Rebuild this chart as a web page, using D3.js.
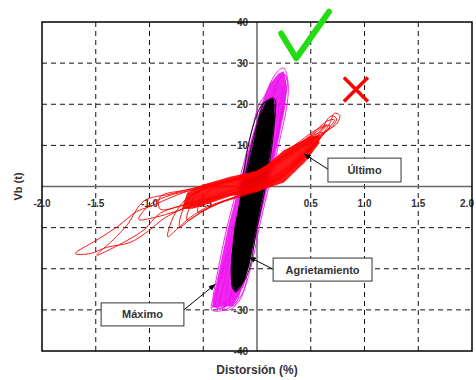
<!DOCTYPE html>
<html>
<head>
<meta charset="utf-8">
<script src="https://cdn.jsdelivr.net/npm/d3@7"></script>
<style>
  body { margin: 0; background: #fff; }
  svg { display: block; font-family: "Liberation Sans", Arial, sans-serif; }
</style>
</head>
<body>
<svg id="chart" width="476" height="380"></svg>
<script>
// ticks
const xTicks = [-2.0, -1.5, -1.0, -0.5, 0.5, 1.0, 1.5, 2.0];
const yTicks = [40, 30, 20, 10, 0, -10, -20, -30, -40];
const xGrid = [-1.5, -1.0, -0.5, 0.5, 1.0, 1.5];
const yGrid = [30, 20, 10, -10, -20, -30];

// Máximo (magenta) loops, [distorsión %, Vb t]
const maxCore = [[-0.42,-29.5],[-0.22,-29],[-0.12,-24],[-0.05,-17],[0.02,-9],[0.10,0],[0.19,10],[0.26,19],[0.28,24],[0.25,28],[0.20,27.5],[0.12,25],[0.04,20],[-0.07,10],[-0.17,0],[-0.27,-10],[-0.35,-20],[-0.40,-26]];
const maxLoops = [
  [[-0.42,-30],[-0.30,-30],[-0.16,-27],[-0.06,-20],[0.02,-10],[0.11,0],[0.20,10],[0.28,20],[0.29,25],[0.26,28.5],[0.24,28.8],[0.20,28.2],[0.14,26],[0.07,22],[0.02,20],[-0.08,10],[-0.18,0],[-0.28,-10],[-0.36,-20],[-0.41,-27]],
  [[-0.38,-29.5],[-0.22,-28],[-0.10,-20],[0.00,-10],[0.08,0],[0.17,10],[0.25,20],[0.28,26],[0.25,27.2],[0.18,25],[0.10,20],[0.00,12],[-0.10,2],[-0.20,-8],[-0.30,-18],[-0.37,-26]],
  [[-0.34,-28.5],[-0.20,-26],[-0.08,-18],[0.02,-6],[0.12,5],[0.20,15],[0.24,22],[0.22,24.5],[0.15,22],[0.06,15],[-0.05,5],[-0.15,-5],[-0.25,-16],[-0.32,-25]],
  [[-0.40,-28.5],[-0.33,-29.8],[-0.26,-27],[-0.16,-19],[-0.05,-8],[0.06,3],[0.16,14],[0.22,21],[0.27,27],[0.22,26.5],[0.12,19],[0.01,9],[-0.12,-3],[-0.24,-14],[-0.34,-23]],
  [[-0.30,-30],[-0.22,-29.5],[-0.14,-24],[-0.04,-13],[0.06,-2],[0.15,8],[0.23,18],[0.26,23],[0.20,22],[0.10,14],[-0.02,3],[-0.14,-8],[-0.24,-19],[-0.29,-27]],
  [[-0.36,-29.8],[-0.27,-28.5],[-0.20,-22],[-0.12,-14],[-0.22,-16],[-0.31,-24]],
  [[-0.25,-29.2],[-0.17,-28],[-0.10,-22],[-0.16,-20],[-0.23,-25]]
];

// Agrietamiento (black) loops
const agrCore = [[-0.20,-25.7],[-0.12,-23],[-0.07,-19],[-0.01,-10],[0.07,0],[0.13,10],[0.16,17],[0.16,21],[0.14,21.5],[0.08,20.5],[0.02,17],[-0.04,10],[-0.13,0],[-0.21,-10],[-0.24,-18],[-0.24,-23]];
const agrLoops = [
  [[-0.20,-25.7],[-0.12,-23],[-0.07,-20],[0.00,-10],[0.08,0],[0.14,10],[0.17,18],[0.17,21],[0.15,21.5],[0.10,21],[0.06,20],[0.00,15],[-0.05,10],[-0.13,0],[-0.20,-10],[-0.24,-20],[-0.23,-24]],
  [[-0.18,-24],[-0.08,-18],[0.02,-6],[0.10,5],[0.15,15],[0.14,19.5],[0.08,18],[0.00,12],[-0.10,2],[-0.18,-10],[-0.21,-20]],
  [[-0.21,-23],[-0.10,-14],[0.00,-2],[0.08,8],[0.13,18],[0.12,21],[0.05,20],[-0.05,13.5],[-0.12,4],[-0.18,-8],[-0.23,-18]],
  [[-0.22,-25],[-0.15,-24],[-0.06,-15],[0.03,-3],[0.11,9],[0.16,20],[0.10,20.5],[0.01,13],[-0.09,1],[-0.17,-11],[-0.23,-21]]
];

// Último (red) loops
const ultCore = [[-0.70,-5.5],[-0.60,-5.4],[-0.50,-4.6],[-0.25,-2.4],[0.00,-1.3],[0.25,1.0],[0.45,6.0],[0.58,10.5],[0.58,12.5],[0.50,12.2],[0.25,8.8],[0.10,5.5],[0.00,3.8],[-0.25,2.4],[-0.50,0.5],[-0.65,-1.5]];
const ultLoops = [
  [[-1.69,-16.3],[-1.55,-16.3],[-1.40,-14.8],[-1.18,-13.6],[-1.02,-11.0],[-0.85,-7.5],[-0.60,-4.5],[-0.30,-2.2],[0.00,-0.3],[0.25,3.0],[0.45,8.0],[0.62,12.8],[0.72,16.2],[0.66,16.0],[0.50,12.5],[0.30,8.5],[0.05,3.5],[-0.30,1.0],[-0.65,-1.2],[-1.00,-4.9],[-1.12,-6.1],[-1.30,-9.8],[-1.49,-13.0]],
  [[-1.49,-16.7],[-1.36,-15.2],[-1.20,-13.0],[-1.05,-10.5],[-0.90,-6.5],[-0.60,-4.0],[-0.30,-2.0],[0.00,0.0],[0.25,4.0],[0.45,9.0],[0.60,13.5],[0.65,15.0],[0.55,13.8],[0.35,10.0],[0.10,5.0],[-0.20,2.0],[-0.50,0.2],[-0.80,-1.8],[-1.05,-3.5],[-1.21,-9.4],[-1.34,-13.0]],
  [[-0.83,-12.2],[-0.75,-10.5],[-0.62,-7.5],[-0.45,-4.8],[-0.20,-2.5],[0.05,0.2],[0.30,4.5],[0.50,9.5],[0.62,13.0],[0.55,12.8],[0.35,9.5],[0.10,4.5],[-0.15,1.8],[-0.45,-0.2],[-0.65,-2.8],[-0.78,-7.5]],
  [[-0.72,-9.8],[-0.60,-7.6],[-0.45,-5.2],[-0.25,-3.0],[0.00,-0.8],[0.25,2.8],[0.45,7.5],[0.58,11.5],[0.68,14.8],[0.62,14.5],[0.45,11.2],[0.25,7.5],[0.00,3.5],[-0.25,1.5],[-0.50,-0.5],[-0.65,-3.5]],
  [[-0.65,-8.2],[-0.50,-6.0],[-0.30,-3.5],[-0.10,-1.5],[0.15,1.0],[0.35,5.0],[0.50,9.5],[0.60,12.2],[0.52,11.8],[0.35,8.8],[0.15,5.5],[-0.10,2.5],[-0.35,0.8],[-0.55,-1.5],[-0.62,-4.5]],
  [[-0.55,-6.2],[-0.40,-4.5],[-0.20,-2.8],[0.00,-1.2],[0.20,1.5],[0.38,5.5],[0.50,9.0],[0.55,10.5],[0.45,10.0],[0.30,7.5],[0.10,4.2],[-0.15,2.0],[-0.38,0.2],[-0.50,-2.5]],
  [[-0.90,-5.5],[-0.60,-3.8],[-0.30,-1.5],[0.00,0.8],[0.25,4.0],[0.45,8.5],[0.60,12.5],[0.68,15.5],[0.72,17.8],[0.77,17.3],[0.74,15.2],[0.62,13.2],[0.45,10.5],[0.20,6.5],[-0.05,3.0],[-0.35,0.8],[-0.65,-0.8],[-0.90,-2.5]],
  [[-1.10,-8.0],[-0.95,-7.5],[-0.75,-6.0],[-0.50,-3.8],[-0.20,-1.6],[0.10,1.0],[0.30,4.5],[0.48,9.0],[0.58,12.0],[0.50,11.0],[0.30,7.5],[0.05,3.2],[-0.25,1.2],[-0.55,-0.5],[-0.85,-2.5],[-1.00,-4.5]],
  [[0.50,11.5],[0.60,13.8],[0.66,16.5],[0.70,17.2],[0.74,16.4],[0.70,14.6],[0.60,12.6]]
];

// marcas y anotaciones (en unidades de datos)
const checkMark = [[0.225,37.2],[0.365,31.2],[0.67,42.5]];
const crossMark = { x: 0.92, y: 23.6 };
const notes = [
  { text: 'Último', box: [0.66, 6.9, 1.34, 1.1], from: [0.66, 4.2], to: [0.44, 7.9] },
  { text: 'Agrietamiento', box: [0.15, -17.4, 1.07, -23.0], from: [0.15, -20.1], to: [-0.07, -17.2] },
  { text: 'Máximo', box: [-1.45, -28.3, -0.68, -33.9], from: [-0.68, -30.0], to: [-0.39, -23.8] }
];

const svg = d3.select('#chart');
const x = d3.scaleLinear().domain([-2, 2]).range([42, 472]);
const y = d3.scaleLinear().domain([-40, 40]).range([351, 22]);

// grilla
svg.append('g').selectAll('line.gx').data(xGrid).enter().append('line')
  .attr('x1', d => x(d)).attr('x2', d => x(d)).attr('y1', y(40)).attr('y2', y(-40))
  .attr('stroke', '#111').attr('stroke-dasharray', '5,4').attr('stroke-width', 1);
svg.append('g').selectAll('line.gy').data(yGrid).enter().append('line')
  .attr('x1', x(-2)).attr('x2', x(2)).attr('y1', d => y(d)).attr('y2', d => y(d))
  .attr('stroke', '#111').attr('stroke-dasharray', '5,4').attr('stroke-width', 1);

// ejes centrales
svg.append('line').attr('x1', x(0)).attr('x2', x(0)).attr('y1', y(40)).attr('y2', y(-40))
  .attr('stroke', '#666').attr('stroke-width', 1.5);
svg.append('line').attr('x1', x(-2)).attr('x2', x(2)).attr('y1', y(0)).attr('y2', y(0))
  .attr('stroke', '#666').attr('stroke-width', 1.5);

// etiquetas de ticks (la última se corre un poco para que quepa)
svg.append('g').selectAll('text').data(xTicks).enter().append('text')
  .attr('x', d => Math.min(x(d), 467)).attr('y', y(0) + 20).attr('text-anchor', 'middle')
  .attr('font-size', 10).attr('font-weight', 'bold').attr('fill', '#333')
  .text(d => d.toFixed(1));
svg.append('g').selectAll('text').data(yTicks).enter().append('text')
  .attr('x', x(0) - 9).attr('y', d => y(d) + 4).attr('text-anchor', 'end')
  .attr('font-size', 10).attr('font-weight', 'bold').attr('fill', '#333')
  .text(d => d);

const loopLine = d3.line().x(d => x(d[0])).y(d => y(d[1])).curve(d3.curveCatmullRomClosed.alpha(0.5));
const coreLine = d3.line().x(d => x(d[0])).y(d => y(d[1])).curve(d3.curveLinearClosed);

function drawSeries(core, loops, color, coreOpacity) {
  const g = svg.append('g');
  g.append('path').attr('d', coreLine(core)).attr('fill', color).attr('fill-opacity', coreOpacity).attr('stroke', 'none');
  g.selectAll('path.loop').data(loops).enter().append('path')
    .attr('class', 'loop').attr('d', loopLine)
    .attr('fill', 'none').attr('stroke', color).attr('stroke-width', 0.9);
}
drawSeries(maxCore, maxLoops, '#ee10ee', 0.9);
drawSeries(agrCore, agrLoops, '#000', 1);
drawSeries(ultCore, ultLoops, '#ff0000', 0.9);

// marco
svg.append('rect').attr('x', x(-2)).attr('y', y(40)).attr('width', x(2) - x(-2)).attr('height', y(-40) - y(40))
  .attr('fill', 'none').attr('stroke', '#000').attr('stroke-width', 1.5);

// títulos
svg.append('text').attr('x', x(0)).attr('y', 374).attr('text-anchor', 'middle')
  .attr('font-size', 12).attr('font-weight', 'bold').attr('fill', '#333').text('Distorsión (%)');
svg.append('text').attr('transform', `translate(22,${y(0)}) rotate(-90)`).attr('text-anchor', 'middle')
  .attr('font-size', 11).attr('font-weight', 'bold').attr('fill', '#333').text('Vb (t)');

// anotaciones
svg.append('defs').append('marker').attr('id', 'arrow').attr('viewBox', '0 0 10 10')
  .attr('refX', 9).attr('refY', 5).attr('markerWidth', 7).attr('markerHeight', 7).attr('orient', 'auto')
  .append('path').attr('d', 'M0,1 L10,5 L0,9 Z').attr('fill', '#000');

notes.forEach(n => {
  svg.append('line').attr('x1', x(n.from[0])).attr('y1', y(n.from[1])).attr('x2', x(n.to[0])).attr('y2', y(n.to[1]))
    .attr('stroke', '#000').attr('stroke-width', 1).attr('marker-end', 'url(#arrow)');
  svg.append('rect').attr('x', x(n.box[0])).attr('y', y(n.box[1]))
    .attr('width', x(n.box[2]) - x(n.box[0])).attr('height', y(n.box[3]) - y(n.box[1]))
    .attr('fill', '#fff').attr('stroke', '#333').attr('stroke-width', 1);
  svg.append('text').attr('x', (x(n.box[0]) + x(n.box[2])) / 2).attr('y', (y(n.box[1]) + y(n.box[3])) / 2 + 4)
    .attr('text-anchor', 'middle').attr('font-size', 11).attr('font-weight', 'bold').attr('fill', '#333').text(n.text);
});

// check verde y cruz roja
svg.append('path').attr('d', d3.line().x(d => x(d[0])).y(d => y(d[1]))(checkMark))
  .attr('fill', 'none').attr('stroke', '#22dd11').attr('stroke-width', 6).attr('stroke-linecap', 'round').attr('stroke-linejoin', 'round');
const cx = x(crossMark.x), cy = y(crossMark.y);
svg.append('path').attr('d', `M${cx - 12},${cy - 12}L${cx + 12},${cy + 12}M${cx - 12},${cy + 12}L${cx + 12},${cy - 12}`)
  .attr('stroke', '#ff0000').attr('stroke-width', 3.5);
</script>
</body>
</html>
